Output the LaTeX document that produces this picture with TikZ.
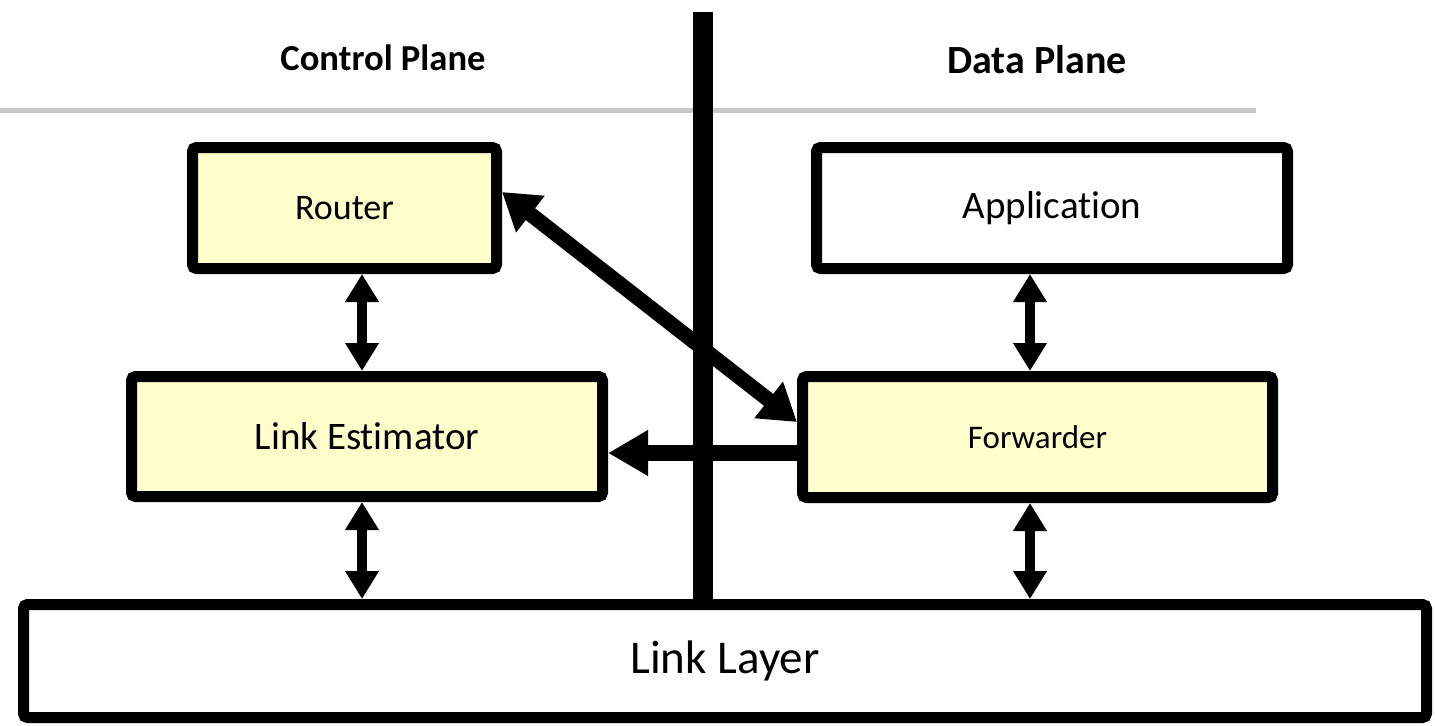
\documentclass[tikz,border=0pt]{standalone}
\usepackage{fontspec}
\setmainfont{Carlito}[Ligatures=NoCommon]
\usepackage{tikz}
\usetikzlibrary{calc,arrows.meta}
\definecolor{boxyellow}{HTML}{FFFFCC}
\definecolor{rulegray}{HTML}{C8C8C8}
\colorlet{boxline}{black}
\tikzstyle{planetitle} = [
    font=\bfseries,
    inner sep=0pt
    ]
\tikzstyle{ctrlbox} = [
    draw=boxline,
    fill=boxyellow,
    line width=5.5pt,
    rounded corners=2pt,
    rectangle,
    inner sep=0pt
    ]
\tikzstyle{databox} = [
    ctrlbox,
    fill=white
    ]
\tikzstyle{thinarrow} = [
    line width=5pt,
    {Triangle[length=14pt,width=16pt]}-{Triangle[length=14pt,width=16pt]}
    ]
\tikzstyle{fatarrow} = [
    line width=7.5pt,
    {Triangle[length=18pt,width=22pt]}-{Triangle[length=18pt,width=22pt]}
    ]

\begin{document}
\begin{tikzpicture}[x=0.5pt,y=-0.5pt]
\useasboundingbox (0,0) rectangle (1435,725);

% the two planes
\draw[rulegray, line width=2.5pt] (0,110) -- (1256,110);
\node[planetitle, font=\fontsize{18.3}{20}\selectfont\bfseries] (ctrl) at (383,58) {Control Plane};
\node[planetitle, font=\fontsize{20}{22}\selectfont\bfseries] (data) at (1037,60) {Data Plane};
\coordinate (bartop) at (703,12);

\node[ctrlbox, minimum width=152pt, minimum height=60.5pt,
      font=\fontsize{18}{20}\selectfont] (router) at (344.5,208) {Router};
\node[databox, minimum width=235.5pt, minimum height=60.5pt,
      font=\fontsize{19.5}{22}\selectfont] (app) at (1052,208) {Application};
\node[ctrlbox, minimum width=235.5pt, minimum height=60pt,
      font=\fontsize{19.5}{22}\selectfont] (lest) at (367,436.5) {Link Estimator};
\node[ctrlbox, minimum width=235pt, minimum height=60.5pt,
      font=\fontsize{16.5}{19}\selectfont] (fwd) at (1037.5,437) {Forwarder};
\node[databox, minimum width=701.5pt, minimum height=56.5pt,
      font=\fontsize{23.5}{26}\selectfont] (llayer) at (725,661) {Link Layer};

\draw[line width=10pt] (bartop) -- (bartop |- llayer.north);

% vertical links
\draw[thinarrow] ([xshift=8.75pt]router.south) -- ([xshift=8.75pt]router.south |- lest.north);
\draw[thinarrow] ([xshift=-2.5pt]lest.south) -- ([xshift=-2.5pt]lest.south |- llayer.north);
\draw[thinarrow] ([xshift=-11pt]app.south) -- ([xshift=-11pt]app.south |- fwd.north);
\draw[thinarrow] ([xshift=-3.75pt]fwd.south) -- ([xshift=-3.75pt]fwd.south |- llayer.north);

% across the planes
\draw[fatarrow] ([yshift=8pt]router.east) -- ([yshift=7.5pt]fwd.west);
\draw[line width=8pt, -{Triangle[length=20pt,width=21.5pt]}]
    ([yshift=-8pt]fwd.west) -- ([yshift=-8pt]fwd.west -| lest.east);
\end{tikzpicture}
\end{document}
